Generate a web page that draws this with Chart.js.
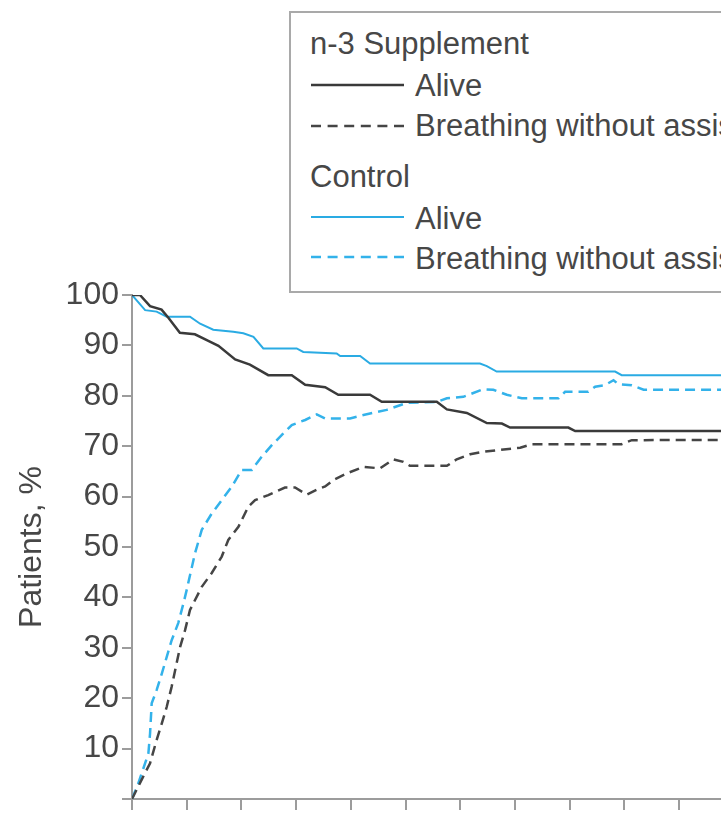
<!DOCTYPE html>
<html>
<head>
<meta charset="utf-8">
<script src="https://cdn.jsdelivr.net/npm/chart.js@4/dist/chart.umd.min.js"></script>
<style>
  html, body { margin: 0; padding: 0; background: #fff; overflow: hidden; }
  #wrap { position: relative; width: 930px; height: 850px; }
  #chart { position: absolute; left: 0; top: 0; }
  #legendBox {
    position: absolute; left: 289px; top: 11px; width: 560px; height: 282px;
    box-sizing: border-box; border: 2px solid #a9a9a9; background: #fff;
  }
  .lg-text {
    position: absolute; white-space: nowrap;
    font-family: "Liberation Sans", Arial, Helvetica, sans-serif;
    font-size: 31px; line-height: 36px; color: #474747;
  }
  .lg-line { position: absolute; }
</style>
</head>
<body>
<div id="wrap">
  <canvas id="chart" width="930" height="850"></canvas>
  <div id="legendBox"></div>
</div>
<script>
// Kaplan-Meier style curves: days since randomization vs. percent of patients
const n3AliveDays = [0, 0.29, 0.66, 1.08, 1.33, 1.75, 2.30, 2.79, 3.16, 3.77, 4.31, 4.98, 5.84, 6.33, 7.06, 7.54, 8.70, 9.13, 11.14, 11.51, 12.24, 12.97, 13.52, 13.82, 15.95, 16.20, 28];
const n3AlivePct  = [100, 100, 97.8, 97.1, 95.5, 92.5, 92.2, 90.9, 89.9, 87.2, 86.2, 84.1, 84.1, 82.2, 81.7, 80.2, 80.2, 78.8, 78.8, 77.3, 76.6, 74.6, 74.5, 73.7, 73.7, 73.0, 73.0];

const n3BreathDays = [0, 0.35, 0.66, 0.90, 1.09, 1.27, 1.45, 1.63, 1.76, 1.94, 2.12, 2.55, 2.91, 3.28, 3.52, 3.89, 4.25, 4.50, 4.98, 5.59, 5.96, 6.39, 6.81, 7.06, 7.36, 7.85, 8.46, 9.07, 9.55, 9.92, 10.16, 11.51, 11.87, 12.36, 12.84, 13.33, 14.19, 14.61, 17.90, 18.27, 28];
const n3BreathPct  = [0, 3.8, 7.1, 11.7, 15.0, 18.3, 22.3, 26.9, 30.2, 33.5, 37.5, 42.1, 44.8, 48.1, 51.4, 54.0, 58.0, 59.3, 60.3, 61.8, 61.8, 60.4, 61.5, 62.0, 63.3, 64.6, 65.9, 65.6, 67.4, 66.9, 66.1, 66.1, 67.4, 68.4, 68.9, 69.2, 69.7, 70.4, 70.4, 71.2, 71.3];

const ctrlAliveDays = [0, 0.48, 0.90, 1.27, 2.12, 2.49, 2.97, 3.70, 4.07, 4.44, 4.80, 6.02, 6.26, 7.48, 7.61, 8.34, 8.70, 12.72, 12.97, 13.33, 17.66, 17.90, 28];
const ctrlAlivePct  = [100, 97.0, 96.7, 95.7, 95.7, 94.3, 93.1, 92.7, 92.4, 91.7, 89.4, 89.4, 88.7, 88.4, 87.9, 87.9, 86.4, 86.4, 85.9, 84.8, 84.8, 84.1, 84.1];

const ctrlBreathDays = [0, 0.23, 0.48, 0.60, 0.66, 0.72, 0.90, 1.09, 1.27, 1.45, 1.69, 1.88, 2.00, 2.30, 2.55, 2.91, 3.28, 3.65, 4.01, 4.38, 4.74, 5.11, 5.47, 5.84, 6.33, 6.75, 7.06, 7.97, 8.46, 9.31, 10.04, 11.14, 11.51, 12.11, 12.84, 13.21, 13.70, 14.25, 15.59, 15.83, 16.68, 16.93, 17.29, 17.60, 17.78, 18.27, 18.70, 28];
const ctrlBreathPct  = [0, 3.1, 7.1, 9.1, 13.0, 19.0, 21.6, 24.9, 28.2, 31.5, 34.9, 38.8, 41.5, 48.7, 53.4, 56.6, 59.3, 62.0, 65.3, 65.3, 67.9, 70.2, 72.2, 74.2, 75.2, 76.3, 75.5, 75.5, 76.2, 77.2, 78.6, 78.8, 79.5, 79.8, 81.3, 81.2, 80.2, 79.5, 79.5, 80.8, 80.8, 81.8, 82.1, 83.1, 82.3, 82.1, 81.2, 81.2];

const groupNames = ['n-3 Supplement', 'Control'];
const outcomeNames = ['Alive', 'Breathing without assistance'];
const yTickValues = [0, 10, 20, 30, 40, 50, 60, 70, 80, 90, 100];
const xTickStep = 2;
const xMax = 28;

const DARK = '#3a3a3a';
const BLUE = '#2aabe3';
const DASH = [10, 6];

function points(xs, ys) { return xs.map((x, i) => ({ x: x, y: ys[i] })); }

const datasets = [
  { label: groupNames[0] + ' – ' + outcomeNames[0], group: 0, data: points(n3AliveDays, n3AlivePct),
    borderColor: DARK, borderWidth: 2.5, borderDash: [] },
  { label: groupNames[0] + ' – ' + outcomeNames[1], group: 0, data: points(n3BreathDays, n3BreathPct),
    borderColor: '#454545', borderWidth: 2.5, borderDash: DASH },
  { label: groupNames[1] + ' – ' + outcomeNames[0], group: 1, data: points(ctrlAliveDays, ctrlAlivePct),
    borderColor: BLUE, borderWidth: 2, borderDash: [] },
  { label: groupNames[1] + ' – ' + outcomeNames[1], group: 1, data: points(ctrlBreathDays, ctrlBreathPct),
    borderColor: '#33b2ea', borderWidth: 2.5, borderDash: DASH }
].map(d => Object.assign(d, { pointRadius: 0, tension: 0, fill: false }));

const FONT = { family: '"Liberation Sans", Arial, Helvetica, sans-serif', size: 32 };
const TEXT_GREY = '#474747';
const AXIS_GREY = '#9c9c9c';

new Chart(document.getElementById('chart'), {
  type: 'line',
  data: { datasets: datasets },
  options: {
    responsive: false,
    animation: false,
    devicePixelRatio: 1,
    layout: { padding: { left: 0, top: 295, right: 32, bottom: 11 } },
    plugins: { legend: { display: false }, tooltip: { enabled: false }, title: { display: false } },
    scales: {
      x: {
        type: 'linear', min: 0, max: xMax,
        ticks: { stepSize: xTickStep, color: TEXT_GREY, font: FONT, padding: 4, maxRotation: 0 },
        grid: { drawOnChartArea: false, drawTicks: true, tickLength: 11, color: AXIS_GREY, lineWidth: 2 },
        border: { color: AXIS_GREY, width: 2 },
        afterFit: s => { s.height = 40; }
      },
      y: {
        type: 'linear', min: 0, max: 100,
        afterBuildTicks: s => { s.ticks = yTickValues.map(v => ({ value: v })); },
        ticks: { color: TEXT_GREY, font: FONT, padding: 3, callback: v => (v === 0 ? '' : String(v)) },
        grid: { drawOnChartArea: false, drawTicks: true, tickLength: 10, color: AXIS_GREY, lineWidth: 2 },
        border: { color: AXIS_GREY, width: 2 },
        title: { display: true, text: 'Patients, %', color: TEXT_GREY, font: FONT, padding: { top: 13, bottom: 0 } },
        afterFit: s => { s.width = 132; }
      }
    }
  }
});

// Grouped legend: a heading per treatment group, then one sample line per outcome
const wrap = document.getElementById('wrap');
const rows = [
  { type: 'head', text: groupNames[0], base: 55 },
  { type: 'item', ds: datasets[0], text: outcomeNames[0], base: 97, lineY: 85 },
  { type: 'item', ds: datasets[1], text: outcomeNames[1], base: 137, lineY: 126 },
  { type: 'head', text: groupNames[1], base: 188 },
  { type: 'item', ds: datasets[2], text: outcomeNames[0], base: 230, lineY: 217 },
  { type: 'item', ds: datasets[3], text: outcomeNames[1], base: 270, lineY: 257 }
];
const BASELINE_OFFSET = 28.8;
rows.forEach(r => {
  const t = document.createElement('div');
  t.className = 'lg-text';
  t.textContent = r.text;
  t.style.top = (r.base - BASELINE_OFFSET) + 'px';
  t.style.left = (r.type === 'head' ? 310 : 415) + 'px';
  wrap.appendChild(t);
  if (r.type === 'item') {
    const ns = 'http://www.w3.org/2000/svg';
    const svg = document.createElementNS(ns, 'svg');
    svg.setAttribute('class', 'lg-line');
    svg.setAttribute('width', '96');
    svg.setAttribute('height', '8');
    svg.style.left = '310px';
    svg.style.top = (r.lineY - 4) + 'px';
    const ln = document.createElementNS(ns, 'line');
    ln.setAttribute('x1', '1'); ln.setAttribute('x2', '94');
    ln.setAttribute('y1', '4'); ln.setAttribute('y2', '4');
    ln.setAttribute('stroke', r.ds.borderColor);
    ln.setAttribute('stroke-width', String(r.ds.borderWidth));
    if (r.ds.borderDash.length) ln.setAttribute('stroke-dasharray', '10 6.6');
    svg.appendChild(ln);
    wrap.appendChild(svg);
  }
});
</script>
</body>
</html>
